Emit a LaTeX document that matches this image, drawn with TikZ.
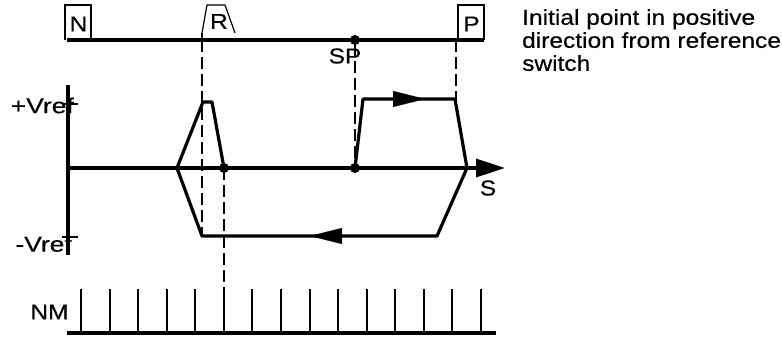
\documentclass[tikz,border=0pt]{standalone}
\usepackage{fontspec}
\setmainfont{Liberation Sans}[FakeStretch=1.14, FakeBold=0.4]
\usetikzlibrary{arrows.meta}
\begin{document}
\begin{tikzpicture}[x=1pt,y=-1pt,
  every node/.style={font=\fontsize{21.5}{23}\selectfont, inner sep=0pt},
  heavy/.style={line width=3.2pt},
  curve/.style={line width=3.2pt, line join=round},
  boxline/.style={line width=1.2pt},
  dashline/.style={line width=1.6pt, dash pattern=on 12pt off 5pt},
  tick/.style={line width=2pt},
  dot/.style={circle, fill=black, minimum size=10pt, inner sep=0pt},
  midarrow/.style={-{Triangle[length=32pt,width=16pt]}, line width=0.1pt}]
\useasboundingbox (0,0) rectangle (782,338);

% top scale
\coordinate (tl) at (67,40);
\coordinate (tr) at (484,40);
\draw[heavy] (tl) -- (tr);
\draw[boxline] (65,40) -- (65,5) -- (91,5) -- (91,40);
\node (N) at (78.5,24) {N};
\draw[boxline] (458,40) -- (458,5) -- (484,5) -- (484,40);
\node (P) at (471.5,24) {P};
\draw[boxline] (202,33) -- (207,5) -- (225,5) -- (235,33);
\draw[tick] (202,33) -- (202,40);
\node (R) at (219,21.5) {R};
\node[dot] (SPdot) at (355,40) {};
\node (SP) at (345,56) {SP};

% axes
\coordinate (ytop) at (68,85);
\coordinate (ybot) at (68,255);
\draw[heavy] (ytop) -- (ybot);
\coordinate (x0) at (68,168);
\coordinate (xend) at (505,168);
\draw[heavy, -{Triangle[length=29pt,width=18pt]}] (x0) -- (xend);
\node (S) at (488,188) {S};
\draw[tick] (62,104) -- (78,104);
\draw[tick] (62,237) -- (78,237);
\node[anchor=east, xscale=1.08] (pv) at (74,105.5) {+Vref};
\node[anchor=east, xscale=1.08] (mv) at (72,244) {-Vref};

% dashed verticals
\draw[dashline] (202,40) -- (202,236);
\draw[dashline] (355,44) -- (355,168);
\draw[dashline] (456,40) -- (456,100);
\draw[dashline] (224,168) -- (224,289);

% curves
\coordinate (a0) at (177,168);
\coordinate (a1) at (203,102);
\coordinate (a2) at (212,102);
\node[dot] (Rdot) at (224,168) {};
\draw[curve] (a0) -- (a1) -- (a2) -- (Rdot.center);
\coordinate (b1) at (202,236);
\coordinate (b2) at (437,236);
\coordinate (b3) at (467,168);
\draw[curve] (a0) -- (b1) -- (b2) -- (b3);
\node[dot] (Sdot) at (355,168) {};
\coordinate (c1) at (363,99);
\coordinate (c2) at (455,99);
\draw[curve] (Sdot.center) -- (c1) -- (c2) -- (b3);
\coordinate (m1s) at (393,99);
\coordinate (m1e) at (425,99);
\draw[midarrow] (m1s) -- (m1e);
\coordinate (m2s) at (342,236);
\coordinate (m2e) at (310,236);
\draw[midarrow] (m2s) -- (m2e);

% NM scale
\coordinate (nl) at (67,333);
\coordinate (nr) at (496,333);
\draw[heavy] (nl) -- (nr);
\foreach \i in {0,...,14} {
  \draw[tick] ({81+28.57*\i},289) -- ({81+28.57*\i},333);
}
\node (NM) at (49.5,312) {NM};

% note
\node[anchor=north west, align=left] (note) at (522,9)
  {Initial point in positive\\direction from reference\\switch};
\end{tikzpicture}
\end{document}
